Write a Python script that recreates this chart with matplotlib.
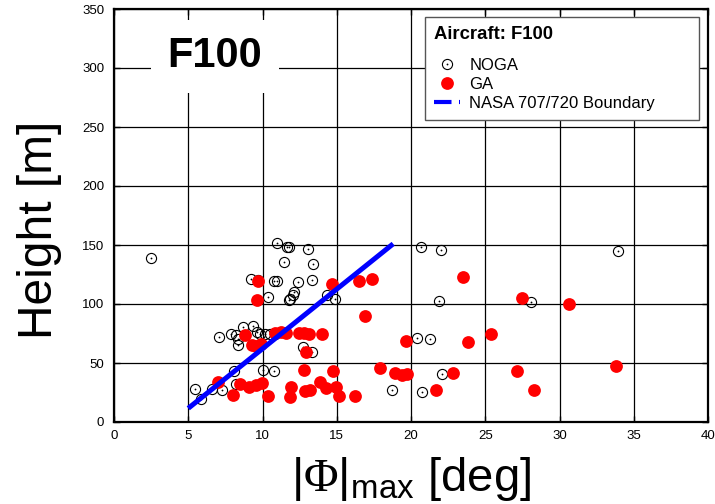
import matplotlib
matplotlib.use("Agg")
import matplotlib.pyplot as plt
from matplotlib.lines import Line2D

plt.rcParams['font.family'] = ['Liberation Sans', 'DejaVu Sans']
plt.rcParams['mathtext.fontset'] = 'custom'
plt.rcParams['mathtext.rm'] = 'Liberation Sans'
plt.rcParams['mathtext.bf'] = 'Liberation Serif'

# NOGA (open circles with centre dot)
noga_x = [2.47, 11.0, 11.65, 11.8, 13.05, 11.43, 13.4, 9.2, 9.7, 10.76, 10.95, 12.4, 13.3,
          10.35, 12.15, 12.06, 11.88, 11.8, 14.35, 14.88,
          7.1, 7.87, 8.2, 8.36, 8.36, 8.7, 9.33, 9.66, 9.82, 10.2, 10.48, 10.83, 12.73, 13.36,
          8.1, 10.0, 10.77, 5.47, 5.85, 6.6, 7.24, 8.2,
          20.65, 21.99, 33.94, 21.88, 28.09, 20.38, 21.28, 22.06, 18.72, 20.74]
noga_y = [139, 152, 148.6, 148, 147, 135.5, 134, 120.8, 120, 119.7, 119.7, 118.4, 120,
          105.8, 110.2, 107.8, 104.5, 103.4, 108, 104.5,
          71.8, 74.3, 73.7, 70.5, 65.5, 80.5, 81, 76.5, 75, 75, 74.6, 74.6, 63.5, 59.2,
          43.5, 44, 43, 28.3, 19.8, 28.3, 27.5, 32.5,
          148, 146, 144.6, 102.5, 101.7, 71.6, 70.5, 40.4, 27.5, 25.5]

# GA (filled red)
ga_x = [9.7, 9.6, 14.66, 16.5, 17.4, 23.5, 27.5, 30.67, 16.87, 19.64, 23.87, 25.4,
        17.92, 18.94, 19.42, 19.75, 22.8, 21.67, 27.14, 28.28, 33.78,
        8.81, 9.26, 9.59, 9.93, 10.85, 11.22, 11.6, 12.45, 12.8, 13.15, 14.0, 12.93,
        12.82, 14.78, 7.01, 8.0, 8.47, 9.08, 9.55, 9.98, 10.35, 11.95, 11.84,
        12.88, 13.22, 13.85, 14.3, 14.95, 15.12, 16.2]
ga_y = [119.5, 103.4, 117, 119.5, 121.5, 123, 105, 99.7, 89.5, 68.5, 68, 74.3,
        46, 41.9, 40, 41, 41.2, 27.4, 43.5, 27.1, 47.5,
        73.7, 65.5, 64.8, 65.8, 75.1, 76.5, 75.7, 75.7, 75.4, 74.8, 74.6, 59,
        44.3, 42.9, 33.8, 23.3, 32, 29.4, 31.4, 32.8, 22.2, 29.6, 21.4,
        26.6, 27.3, 33.8, 28.8, 29.9, 22.2, 22.2]

# NASA 707/720 boundary
nasa_x = [5.0, 18.8]
nasa_y = [11.6, 151.0]

x_ticks = [0, 5, 10, 15, 20, 25, 30, 35, 40]
y_ticks = [0, 50, 100, 150, 200, 250, 300, 350]

fig = plt.figure(figsize=(7.15, 5.04), dpi=100)
ax = fig.add_axes([114/715, 82/504, 594/715, 413/504])
ax.set_xlim(0, 40)
ax.set_ylim(0, 350)
ax.set_xticks(x_ticks)
ax.set_yticks(y_ticks)
ax.grid(True, color='black', lw=0.9, zorder=0)
ax.set_axisbelow(True)
ax.tick_params(direction='in', top=True, right=True, length=4, width=1,
               labelsize=9.5)
ax.tick_params(axis='y', pad=7)
ax.tick_params(axis='x', pad=6)
for s in ax.spines.values():
    s.set_linewidth(1.6)

l_noga, = ax.plot(noga_x, noga_y, 'o', ms=7.3, mfc='none', mec='black', mew=0.8,
                  ls='none', zorder=3)
l_nogad, = ax.plot(noga_x, noga_y, 'o', ms=1.3, mfc='black', mec='none',
                   ls='none', zorder=3)
l_ga, = ax.plot(ga_x, ga_y, 'o', ms=9.2, mfc='red', mec='none', ls='none', zorder=4)
ax.plot(nasa_x, nasa_y, '-', color='blue', lw=3.6, solid_capstyle='butt', zorder=5)

proxy_nasa = Line2D([], [], color='blue', lw=3.0, ls=(0, (4.2, 1.8, 1.4, 6)))

leg = ax.legend([(l_noga, l_nogad), l_ga, proxy_nasa],
                ['NOGA', 'GA', 'NASA 707/720 Boundary'],
                loc='upper left', bbox_to_anchor=(0.5236, 0.738, 0.4614, 0.243),
                mode='expand', borderaxespad=0, fancybox=False, framealpha=1,
                edgecolor='#555555', fontsize=12, title='Aircraft: F100',
                title_fontproperties={'weight': 'bold', 'size': 13.3},
                alignment='left', handlelength=1.55, labelspacing=0.22,
                handletextpad=0.55, borderpad=0.55)
leg._legend_box.sep = 11
leg.get_frame().set_linewidth(1.0)
leg.set_zorder(10)

ax.text(6.8, 310, 'F100', fontsize=30, fontweight='bold', ha='center', va='center',
        bbox=dict(boxstyle='square,pad=0.4', fc='white', ec='none'), zorder=6)

ax.set_ylabel('Height [m]', fontsize=34.5)
ax.yaxis.set_label_coords(-0.088, 0.465)
ax.set_xlabel(r'$|\mathbf{\Phi}|_{\mathrm{max}}$ [deg]', fontsize=34, labelpad=9)

fig.savefig('out.png', dpi=100)
